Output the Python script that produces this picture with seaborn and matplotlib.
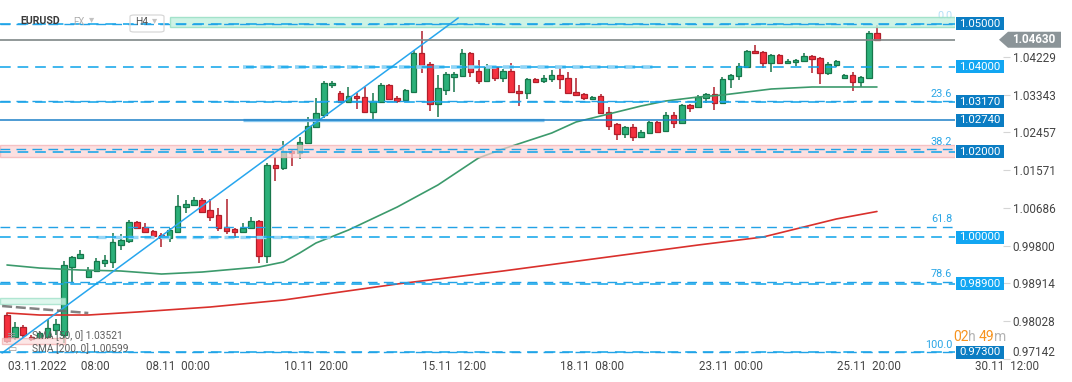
import matplotlib
matplotlib.use("Agg")
import matplotlib.pyplot as plt
import matplotlib.transforms as mtransforms
import numpy as np
import pandas as pd
import seaborn as sns
from matplotlib.patches import FancyBboxPatch, Polygon, Rectangle

# ---- candles (H4 EURUSD) ----
opens = [
    0.98169, 0.97653, 0.97887, 0.97653, 0.97629, 0.97653, 0.97817, 0.97700, 0.99296, 0.99507,
    0.99061, 0.99202, 0.99390, 0.99413, 0.99812, 0.99906, 1.00352, 1.00235, 1.00141, 1.00047,
    0.99977, 1.00117, 1.00704, 1.00751, 1.00869, 1.00634, 1.00516, 1.00235, 1.00188, 1.00117,
    1.00211, 1.00376, 0.99554, 1.01690, 1.01620, 1.02019, 1.01972, 1.02207, 1.02582, 1.02864,
    1.03568, 1.03380, 1.03169, 1.03310, 1.03286, 1.02934, 1.03169, 1.03568, 1.03263, 1.03216,
    1.03404, 1.04319, 1.04061, 1.03122, 1.03451, 1.03756, 1.03779, 1.04319, 1.03897, 1.03662,
    1.03991, 1.03732, 1.03897, 1.03427, 1.03380, 1.03709, 1.03662, 1.03709, 1.03803, 1.03732,
    1.03404, 1.03357, 1.03239, 1.03310, 1.02934, 1.02653, 1.02418, 1.02582, 1.02347, 1.02441,
    1.02700, 1.02488, 1.02864, 1.02676, 1.03099, 1.03052, 1.03263, 1.03357, 1.03146, 1.03709,
    1.03779, 1.03991, 1.04366, 1.04343, 1.04085, 1.04272, 1.04085, 1.04108, 1.04131, 1.04249,
    1.04202, 1.03850, 1.04038, 1.03732, 1.03803, 1.03638, 1.03732, 1.04789,
]
highs = [
    0.98216, 0.98005, 0.97934, 0.97700, 0.97770, 0.98075, 0.98075, 0.99437, 0.99554, 0.99695,
    0.99296, 0.99507, 0.99578, 1.00094, 1.00070, 1.00399, 1.00376, 1.00329, 1.00164, 1.00094,
    1.00211, 1.00986, 1.00869, 1.00939, 1.00915, 1.00892, 1.00681, 1.00892, 1.00211, 1.00329,
    1.00469, 1.00399, 1.01737, 1.01878, 1.02254, 1.02042, 1.02347, 1.02817, 1.03263, 1.03662,
    1.03662, 1.03427, 1.03521, 1.03380, 1.03521, 1.03380, 1.03615, 1.03592, 1.03310, 1.03474,
    1.04390, 1.04836, 1.04108, 1.03803, 1.03873, 1.03873, 1.04413, 1.04343, 1.04155, 1.04061,
    1.04014, 1.03944, 1.04085, 1.03568, 1.03732, 1.03732, 1.03803, 1.03920, 1.03991, 1.03873,
    1.03732, 1.03380, 1.03310, 1.03357, 1.03052, 1.02676, 1.02606, 1.02653, 1.02512, 1.02723,
    1.02723, 1.02934, 1.02934, 1.03122, 1.03122, 1.03333, 1.03380, 1.03521, 1.03756, 1.03826,
    1.04085, 1.04390, 1.04507, 1.04366, 1.04296, 1.04296, 1.04178, 1.04178, 1.04319, 1.04272,
    1.04225, 1.04108, 1.04155, 1.03826, 1.03873, 1.03779, 1.04836, 1.04977,
]
lows = [
    0.97512, 0.97582, 0.97629, 0.97559, 0.97606, 0.97629, 0.97700, 0.97512, 0.98920, 0.99484,
    0.99038, 0.99178, 0.99296, 0.99272, 0.99695, 0.99859, 1.00188, 1.00094, 1.00000, 0.99765,
    0.99883, 1.00094, 1.00563, 1.00728, 1.00563, 1.00376, 1.00141, 1.00070, 0.99977, 1.00094,
    1.00188, 0.99390, 0.99390, 1.01315, 1.01573, 1.01667, 1.01831, 1.02183, 1.02559, 1.02793,
    1.03498, 1.03146, 1.03146, 1.03005, 1.02911, 1.02770, 1.03146, 1.03216, 1.03146, 1.03169,
    1.03380, 1.03850, 1.02958, 1.02817, 1.03333, 1.03404, 1.03756, 1.03756, 1.03592, 1.03638,
    1.03662, 1.03638, 1.03380, 1.03075, 1.03239, 1.03615, 1.03615, 1.03638, 1.03474, 1.03357,
    1.03310, 1.03216, 1.03216, 1.02887, 1.02512, 1.02277, 1.02324, 1.02254, 1.02324, 1.02418,
    1.02441, 1.02465, 1.02559, 1.02653, 1.02934, 1.03028, 1.03146, 1.02981, 1.03122, 1.03498,
    1.03685, 1.03967, 1.04296, 1.03967, 1.03873, 1.04061, 1.04061, 1.04014, 1.04108, 1.03850,
    1.03592, 1.03803, 1.03991, 1.03709, 1.03427, 1.03521, 1.03709, 1.04601,
]
closes = [
    0.97559, 0.97887, 0.97700, 0.97606, 0.97746, 0.97864, 0.97958, 0.99343, 0.99531, 0.99601,
    0.99225, 0.99437, 0.99460, 0.99883, 0.99930, 1.00352, 1.00211, 1.00117, 1.00023, 0.99977,
    1.00164, 1.00728, 1.00775, 1.00869, 1.00587, 1.00469, 1.00211, 1.00141, 1.00117, 1.00211,
    1.00376, 0.99554, 1.01690, 1.01620, 1.02019, 1.01972, 1.02230, 1.02606, 1.02911, 1.03615,
    1.03615, 1.03169, 1.03310, 1.03263, 1.02934, 1.03192, 1.03568, 1.03239, 1.03192, 1.03451,
    1.04319, 1.04014, 1.03122, 1.03498, 1.03826, 1.03826, 1.04319, 1.03873, 1.03662, 1.03991,
    1.03732, 1.03897, 1.03404, 1.03380, 1.03709, 1.03638, 1.03732, 1.03803, 1.03709, 1.03380,
    1.03333, 1.03263, 1.03286, 1.02911, 1.02606, 1.02418, 1.02582, 1.02347, 1.02465, 1.02700,
    1.02465, 1.02864, 1.02676, 1.03099, 1.03028, 1.03286, 1.03357, 1.03146, 1.03709, 1.03803,
    1.04014, 1.04366, 1.04319, 1.04085, 1.04272, 1.04085, 1.04131, 1.04155, 1.04249, 1.04178,
    1.03850, 1.04061, 1.04131, 1.03803, 1.03638, 1.03756, 1.04789, 1.04630,
]

# moving averages, sampled at bar indices
sma50_bars = [0, 4, 9, 14, 19, 24, 31, 34, 36, 38, 42, 48, 53, 58, 61, 67, 70, 73, 78, 81, 85, 88, 94, 99, 103, 107]
sma50_vals = [0.99343, 0.99272, 0.99225, 0.99202, 0.99131, 0.99178, 0.99296, 0.99413, 0.99625, 0.99859,
              1.00164, 1.00704, 1.01221, 1.01855, 1.02066, 1.02441, 1.02700, 1.02840, 1.03075, 1.03192,
              1.03286, 1.03333, 1.03474, 1.03521, 1.03521, 1.03521]
sma200_bars = [0, 4, 10, 16, 25, 34, 48, 61, 73, 85, 93, 97, 102, 107]
sma200_vals = [0.98216, 0.98169, 0.98169, 0.98239, 0.98357, 0.98521, 0.98897, 0.99202, 0.99507, 0.99812,
               1.00000, 1.00188, 1.00423, 1.00599]

# drawings
trend_bars = [-0.6, 55.5]
trend_prices = [0.97277, 1.05141]
gray_bars = [-0.6, 10.0]
gray_prices = [0.98380, 0.98216]

levels = [1.05000, 1.04000, 1.03170, 1.02740, 1.02000, 1.00000, 0.98900, 0.97300]
level_dark = [True, False, True, True, True, False, False, True]
fib_high, fib_low = 1.05000, 0.97300
fib_ratios = [0.0, 23.6, 38.2, 61.8, 78.6, 100.0]

price_ticks = [1.04229, 1.03343, 1.02457, 1.01571, 1.00686, 0.99800, 0.98914, 0.98028, 0.97142]
time_tick_bars = [4, 21, 38, 55, 72, 89, 106, 123]
time_tick_labels = ["03.11.2022     08:00", "08.11  00:00", "10.11  20:00", "15.11  12:00",
                    "18.11  08:00", "23.11  00:00", "25.11  20:00", "30.11  12:00"]
last_price = 1.04630

GREEN, GREEN_EDGE = "#2bb079", "#17774b"
RED, RED_EDGE = "#f5303e", "#b01f2b"
DARK_BOX, LIGHT_BOX = "#0b7dc3", "#12a6f2"
DASH_BLUE = "#0ba3ea"

W, H = 1072, 382
PW, PH, PB = 955, 360, 22
XLIM = (-0.86, 116.6)
YLIM = (0.97113, 1.05563)
PX_PRICE = (YLIM[1] - YLIM[0]) / PH

sns.set_theme(style="white")
plt.rcParams["font.family"] = ["Roboto", "DejaVu Sans"]

fig = plt.figure(figsize=(W / 100, H / 100), dpi=100)
ax = fig.add_axes([0, PB / H, PW / W, PH / H])
ax.set_xlim(*XLIM)
ax.set_ylim(*YLIM)
ax.set_facecolor("white")
for s in ax.spines.values():
    s.set_visible(False)

xdata_yaxes = mtransforms.blended_transform_factory(ax.transData, ax.transAxes)
xaxes_ydata = mtransforms.blended_transform_factory(ax.transAxes, ax.transData)

# ---- candles ----
o, h, l, c = map(np.array, (opens, highs, lows, closes))
idx = np.arange(len(o))
up = c >= o
body_lo = np.minimum(o, c)
body_h = np.maximum(np.abs(c - o), 1.6 * PX_PRICE)
for mask, face, edge in ((up, GREEN, GREEN_EDGE), (~up, RED, RED_EDGE)):
    ax.vlines(idx[mask], l[mask], h[mask], color=edge, lw=1.1, zorder=3)
    ax.bar(idx[mask], body_h[mask], bottom=body_lo[mask], width=0.68, color=face,
           edgecolor=edge, linewidth=0.9, zorder=4)

# ---- moving averages ----
sma = pd.DataFrame({"bar": sma50_bars, "val": sma50_vals})
sns.lineplot(data=sma, x="bar", y="val", ax=ax, color="#3c9a6c", linewidth=1.2, zorder=5, estimator=None)
sma2 = pd.DataFrame({"bar": sma200_bars, "val": sma200_vals})
sns.lineplot(data=sma2, x="bar", y="val", ax=ax, color="#d9302c", linewidth=1.2, zorder=5, estimator=None)
ax.set_xlabel("")
ax.set_ylabel("")

# ---- zones ----
ax.add_patch(Rectangle((20.0, 1.04930), XLIM[1] - 20.0, 1.05164 - 1.04930, facecolor="#c6f1e1",
                       edgecolor="#98dfc4", lw=1, alpha=0.85, zorder=6))
ax.add_patch(Rectangle((XLIM[0], 1.01878), XLIM[1] - XLIM[0], 1.02160 - 1.01878, facecolor="#fbd3d5",
                       edgecolor="#f3aeb1", lw=1, alpha=0.7, zorder=6))
ax.add_patch(Rectangle((XLIM[0], 0.98427), 7.1 - XLIM[0], 0.98568 - 0.98427, facecolor="#d3f5e8",
                       edgecolor="#9be0c6", lw=1, alpha=0.75, zorder=6))
ax.add_patch(Rectangle((-0.6, 0.97488), 7.7, 0.97629 - 0.97488, facecolor="#fbdcdc",
                       edgecolor="#f2aaaa", lw=1, alpha=0.7, zorder=6))

# ---- lines ----
dash = (0, (7, 4.5))
ax.plot(trend_bars, trend_prices, color="#27a6ee", lw=1.1, zorder=7)
ax.plot(gray_bars, gray_prices, color="#6d6d6d", lw=1.8, ls=(0, (4, 1.5)), alpha=0.85, zorder=7)
ax.axhline(last_price, color="#7f8888", lw=1.2, zorder=7)

for price in levels:
    if price == 1.02740:
        ax.axhline(price, color="#1d80c8", lw=1.1, zorder=7)
    else:
        ax.axhline(price, color=DASH_BLUE, lw=1.1, ls=dash, zorder=7)
# older, lighter copies of a few levels
ax.hlines(1.04000, 29.0, 80.0, color="#8fd4f6", lw=2.6, ls=(0, (3, 1.8)), zorder=6.5)
ax.hlines(1.02740, 29.0, 66.0, color="#86c6ee", lw=2.4, zorder=6.5)
ax.hlines(1.00000, 11.0, 40.0, color="#97d6f6", lw=2.4, ls=(0, (3, 1.8)), zorder=6.5)

for ratio in fib_ratios:
    fp = fib_high - (fib_high - fib_low) * ratio / 100.0
    ax.axhline(fp, color="#22a2e6", lw=1.0, ls=dash, zorder=7)
    ax.text(0.997, fp + 2.5 * PX_PRICE, f"{ratio:.1f}", transform=xaxes_ydata, ha="right", va="bottom",
            fontsize=7.8, color="#2aa6e6", alpha=0.35 if ratio == 0.0 else 1.0, zorder=5.5 if ratio == 0.0 else 8)

# ---- price boxes on the right ----
for price, dark in zip(levels, level_dark):
    ax.add_patch(Rectangle((956 / PW, price - 6.5 * PX_PRICE), 48 / PW, 13 * PX_PRICE,
                           transform=xaxes_ydata, facecolor=DARK_BOX if dark else LIGHT_BOX,
                           edgecolor="none", clip_on=False, zorder=9))
    ax.text(980 / PW, price, f"{price:.5f}", transform=xaxes_ydata, ha="center", va="center",
            fontsize=8.2, color="white", clip_on=False, zorder=10)

tag = Polygon([(999 / PW, last_price), (1008 / PW, last_price + 8 * PX_PRICE),
               (1061 / PW, last_price + 8 * PX_PRICE), (1061 / PW, last_price - 8 * PX_PRICE),
               (1008 / PW, last_price - 8 * PX_PRICE)], closed=True, transform=xaxes_ydata,
              facecolor="#8b9498", edgecolor="none", clip_on=False, zorder=9)
ax.add_patch(tag)
ax.text(1034 / PW, last_price, f"{last_price:.5f}", transform=xaxes_ydata, ha="center", va="center",
        fontsize=8.4, fontweight="bold", color="white", clip_on=False, zorder=10)

# ---- price axis ----
ax.yaxis.tick_right()
ax.spines["right"].set_position(("outward", 48 * 0.72))
ax.set_yticks(price_ticks)
ax.set_yticklabels([f"{t:.5f}" for t in price_ticks])
ax.tick_params(axis="y", which="both", right=True, length=5, width=0.8, color="#d5d5d5",
               labelsize=8.5, labelcolor="#454545", pad=2)
ax.get_yticklabels()[-1].set_va("bottom")
ax.set_xticks([])

# ---- time axis ----
for pos, lab in zip(time_tick_bars, time_tick_labels):
    if pos == time_tick_bars[0]:
        ax.text(XLIM[0] + 8 / 8.13, -7 / PH, lab, transform=xdata_yaxes, ha="left", va="center",
                fontsize=8.4, color="#454545", clip_on=False)
    else:
        ax.text(pos, -7 / PH, lab, transform=xdata_yaxes, ha="center", va="center",
                fontsize=8.4, color="#454545", clip_on=False)

# ---- header ----
def fpx(x, y):
    return x / W, 1 - y / H

fig.text(*fpx(20, 21), "EURUSD", fontsize=7.6, fontweight="bold", color="#3a3a3a", va="center", zorder=10)
fig.text(*fpx(73, 22), "FX", fontsize=7.0, color="#b0b0b0", va="center")
fig.text(*fpx(89, 19), "▾", fontsize=7.5, color="#c2c2c2", va="center", family="DejaVu Sans")
fig.patches.append(FancyBboxPatch((130 / W, 1 - 32 / H), 34 / W, 17 / H, boxstyle="round,pad=0,rounding_size=0.004",
                                  transform=fig.transFigure, facecolor="none", edgecolor="#d8d8d8", lw=0.9))
fig.text(*fpx(135, 22), "H4", fontsize=7.4, color="#555555", va="center")
fig.text(*fpx(152, 20), "▾", fontsize=7.5, color="#c2c2c2", va="center", family="DejaVu Sans")

# ---- indicator legend ----
fig.text(*fpx(32, 336), "SMA [50, 0] 1.03521", fontsize=7.3, color="#5e5e5e", va="center")
fig.text(*fpx(32, 349), "SMA [200, 0] 1.00599", fontsize=7.3, color="#5e5e5e", va="center")
fig.text(*fpx(7, 336), "≡", fontsize=8, color="#9a9a9a", va="center", family="DejaVu Sans")
fig.text(*fpx(7, 349), "▭", fontsize=7, color="#9a9a9a", va="center", family="DejaVu Sans")

# ---- countdown (sits just right of the 100.0 fib label) ----
fig.text(*fpx(953, 341), "02", fontsize=10, color="#f7931e", va="baseline")
fig.text(*fpx(968, 341), "h", fontsize=10, color="#b3b3b3", va="baseline")
fig.text(*fpx(979, 341), "49", fontsize=10, color="#f7931e", va="baseline")
fig.text(*fpx(994, 341), "m", fontsize=10, color="#b3b3b3", va="baseline")

fig.savefig("out.png", dpi=100, facecolor="white")
